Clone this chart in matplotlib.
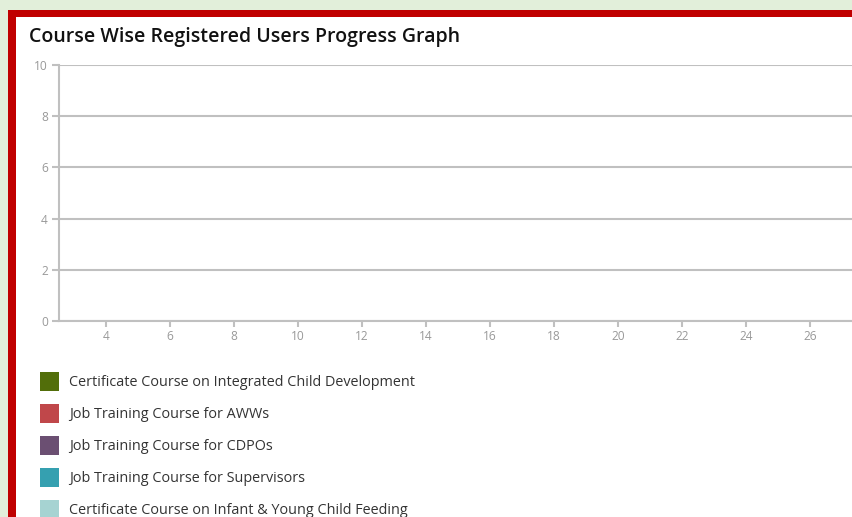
import matplotlib
matplotlib.use("Agg")
import matplotlib.pyplot as plt
from matplotlib.patches import Rectangle

plt.rcParams['font.family'] = ['Open Sans', 'DejaVu Sans']

title = "Course Wise Registered Users Progress Graph"
series_names = [
    "Certificate Course on Integrated Child Development",
    "Job Training Course for AWWs",
    "Job Training Course for CDPOs",
    "Job Training Course for Supervisors",
    "Certificate Course on Infant & Young Child Feeding",
]
series_colors = ["#526E0A", "#C0474A", "#6B4F72", "#35A0B0", "#A6D3D2"]
# No data points are shown in the chart (empty series)
series_x = [[], [], [], [], []]
series_y = [[], [], [], [], []]
x_ticks = [4, 6, 8, 10, 12, 14, 16, 18, 20, 22, 24, 26]
y_ticks = [0, 2, 4, 6, 8, 10]

W, H = 852, 517
fig = plt.figure(figsize=(W / 100, H / 100), dpi=100)
fig.patch.set_facecolor("#E2EFDA")

def fx(px):
    return px / W

def fy(py):
    return 1 - py / H

# red frame and white panel
fig.add_artist(Rectangle((fx(8), 0), 1 - fx(8), fy(10), transform=fig.transFigure,
                         facecolor="#C00000", edgecolor="none", zorder=0))
fig.add_artist(Rectangle((fx(16), 0), 1 - fx(16), fy(17), transform=fig.transFigure,
                         facecolor="white", edgecolor="none", zorder=0))

fig.text(fx(29), fy(37), title, fontsize=14.0, color="#111111", va="center", ha="left",
         fontweight="semibold")

ax_left, ax_right = 59, 852
ax_top, ax_bot = 65, 321
ax = fig.add_axes([fx(ax_left), fy(ax_bot), fx(ax_right) - fx(ax_left), fy(ax_top) - fy(ax_bot)])
ax.set_facecolor("none")
for xs, ys, c, n in zip(series_x, series_y, series_colors, series_names):
    ax.plot(xs, ys, color=c, label=n)

ppx = 32.0
xmin = 4 - (106 - ax_left) / ppx
xmax = 4 + (ax_right - 106) / ppx
ax.set_xlim(xmin, xmax)
ax.set_ylim(0, 10)
ax.set_xticks(x_ticks)
ax.set_yticks(y_ticks)
ax.grid(axis="y", color="#C0C0C0", linewidth=1.5)
ax.set_axisbelow(True)
for s in ["top", "right"]:
    ax.spines[s].set_visible(False)
for s in ["left", "bottom"]:
    ax.spines[s].set_color("#C0C0C0")
    ax.spines[s].set_linewidth(1.5)
ax.tick_params(axis="y", length=5, width=1.5, color="#C0C0C0", labelcolor="#999999",
               labelsize=8.6, pad=3)
ax.tick_params(axis="x", length=4, width=1.5, color="#C0C0C0", labelcolor="#999999",
               labelsize=8.6, pad=2.5)

# legend
for i, (n, c) in enumerate(zip(series_names, series_colors)):
    yc = 381 + 32 * i
    fig.add_artist(Rectangle((fx(40), fy(yc + 9.5)), fx(19), 19 / H, transform=fig.transFigure,
                             facecolor=c, edgecolor="none"))
    fig.text(fx(69), fy(yc + 1), n, fontsize=10.4, color="#333333", va="center", ha="left")

fig.savefig("out.png", dpi=100, facecolor=fig.get_facecolor())
